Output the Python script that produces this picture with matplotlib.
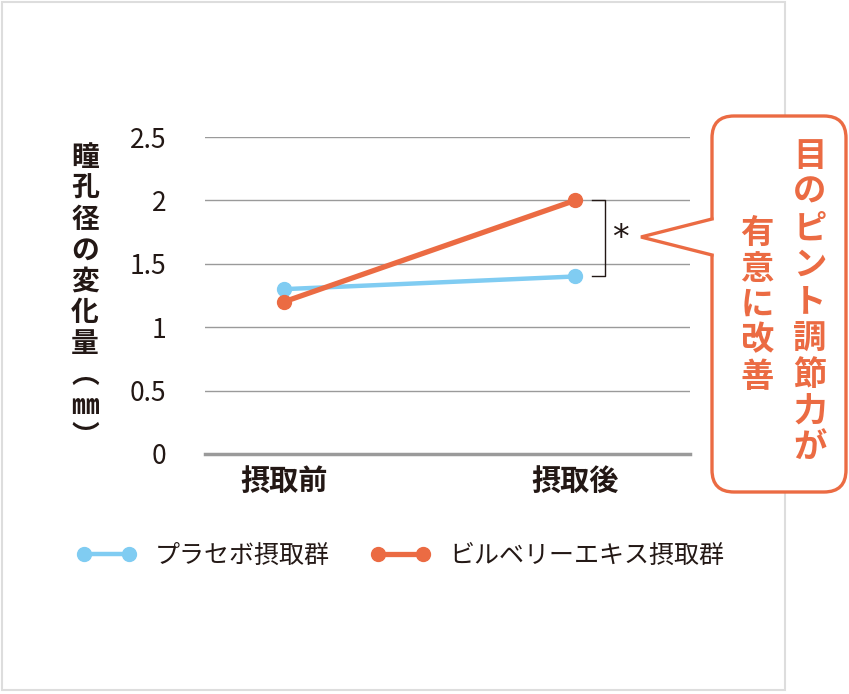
import matplotlib
matplotlib.use('Agg')
import matplotlib.pyplot as plt
from matplotlib.patches import FancyBboxPatch, Polygon, Rectangle
from matplotlib.lines import Line2D

plt.rcParams['font.family'] = ['Noto Sans CJK JP', 'DejaVu Sans']

# data
categories = ['摂取前', '摂取後']
placebo = [1.3, 1.4]
bilberry = [1.2, 2.0]
series_names = ['プラセボ摂取群', 'ビルベリーエキス摂取群']
y_ticks = [0, 0.5, 1, 1.5, 2, 2.5]
y_tick_labels = ['0', '0.5', '1', '1.5', '2', '2.5']
y_label = '瞳孔径の変化量︵㎜︶'
callout_cols = ['目のピント調節力が', '有意に改善']
sig_mark = '*'

BLUE = '#80CCF2'
ORANGE = '#EB6B43'
GRID = '#9a9a9a'
TEXT = '#231815'

W, H = 849, 694
fig = plt.figure(figsize=(W / 100, H / 100), dpi=100)

# main chart
ax = fig.add_axes([205 / W, 1 - 454 / H, 485 / W, (454 - 137) / H])
x = list(range(len(categories)))
ax.plot(x, placebo, color=BLUE, lw=3.2, marker='o', ms=10, solid_capstyle='round', zorder=3)
ax.plot(x, bilberry, color=ORANGE, lw=3.8, marker='o', ms=10, solid_capstyle='round', zorder=4)
ax.set_xlim(-0.271, 1.395)
ax.set_ylim(0, 2.5)
ax.set_yticks(y_ticks)
ax.set_yticklabels(y_tick_labels, fontsize=19, color=TEXT)
ax.set_xticks(x)
ax.set_xticklabels(categories, fontsize=21, fontweight='bold', color=TEXT)
ax.tick_params(axis='y', length=0, pad=28)
ax.tick_params(axis='x', length=0, pad=9)
for yv in y_ticks[1:]:
    ax.axhline(yv, color=GRID, lw=1, zorder=1)
for s in ['top', 'right', 'left']:
    ax.spines[s].set_visible(False)
ax.spines['bottom'].set_color(GRID)
ax.spines['bottom'].set_linewidth(2.5)
ax.set_facecolor('none')

# significance bracket
bx = 1.103
ax.plot([1.06, bx, bx, 1.06], [bilberry[1], bilberry[1], placebo[1], placebo[1]],
        color=TEXT, lw=1, clip_on=False)
ax.text(1.155, (bilberry[1] + placebo[1]) / 2, sig_mark, fontsize=24, color=TEXT,
        ha='center', va='center', clip_on=False, family='DejaVu Sans')

# legend
handles = [Line2D([], [], color=BLUE, lw=3.2, marker='o', ms=10),
           Line2D([], [], color=ORANGE, lw=3.8, marker='o', ms=10)]
fig.legend(handles, series_names, loc='center left', bbox_to_anchor=(54 / W, 1 - 556 / H),
           ncol=2, numpoints=2, frameon=False, fontsize=18, handlelength=2.4,
           handletextpad=0.75, columnspacing=1.6, labelcolor=TEXT)

# overlay in pixel coordinates
ov = fig.add_axes([0, 0, 1, 1], zorder=10)
ov.set_xlim(0, W)
ov.set_ylim(H, 0)
ov.axis('off')
ov.patch.set_alpha(0)

ov.add_patch(Rectangle((2, 2), 783, 688, fill=False, edgecolor='#dddddd', lw=1.5))

# vertical y label
for i, ch in enumerate(y_label):
    ov.text(85, 158 + i * 31, ch, fontsize=20, fontweight='bold', color=TEXT,
            ha='center', va='center')

# callout
box = FancyBboxPatch((712, 116), 134, 376, boxstyle='round,pad=0,rounding_size=22',
                     facecolor='white', edgecolor=ORANGE, lw=2.4)
ov.add_patch(box)
ov.add_patch(Polygon([(714, 219), (641, 237), (714, 255)], closed=False,
                     facecolor='white', edgecolor='none'))
ov.plot([712, 641, 712], [219, 237, 255], color=ORANGE, lw=2.4, solid_joinstyle='miter')

for i, ch in enumerate(callout_cols[0]):
    ov.text(810, 156 + i * 36.5, ch, fontsize=24, fontweight='bold', color=ORANGE,
            ha='center', va='center')
for i, ch in enumerate(callout_cols[1]):
    ov.text(757, 233 + i * 36, ch, fontsize=24, fontweight='bold', color=ORANGE,
            ha='center', va='center')

fig.savefig('out.png', dpi=100, facecolor='white')
